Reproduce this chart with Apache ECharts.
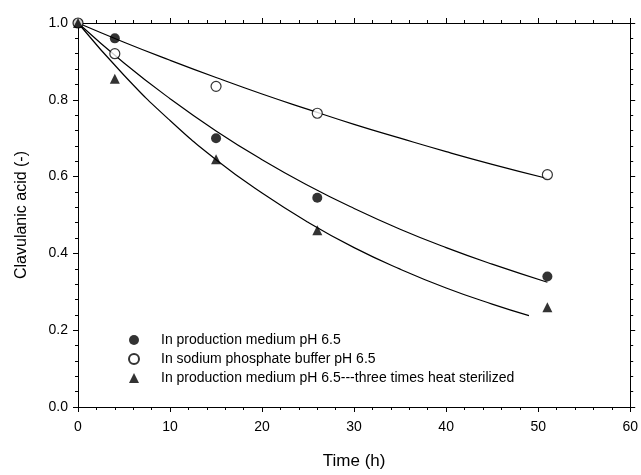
<!DOCTYPE html>
<html>
<head>
<meta charset="utf-8">
<script src="https://cdn.jsdelivr.net/npm/echarts@6/dist/echarts.min.js"></script>
<style>html,body{margin:0;padding:0;background:#fff}#c{width:641px;height:475px}</style>
</head>
<body>
<div id="c"></div>
<script>
// Measured points
const timePoints = [0, 4, 15, 26, 51];
const prodMedium = [1.0, 0.96, 0.70, 0.545, 0.34];
const phosphateBuffer = [1.0, 0.92, 0.835, 0.765, 0.605];
const heatSterilized = [1.0, 0.855, 0.645, 0.46, 0.26];

// Fitted curves
const curveTimeA = [0, 5, 10, 15, 20, 25, 30, 35, 40, 45, 51];
const curvePhosphate = [1.0, 0.95, 0.903, 0.858, 0.815, 0.775, 0.736, 0.70, 0.665, 0.632, 0.595];
const curveProd = [1.0, 0.896, 0.803, 0.719, 0.644, 0.577, 0.517, 0.463, 0.415, 0.372, 0.325];
const curveTimeB = [0, 5, 10, 15, 20, 25, 30, 35, 40, 45, 49];
const curveHeat = [1.0, 0.864, 0.746, 0.644, 0.557, 0.481, 0.415, 0.359, 0.310, 0.268, 0.238];

const legendNames = [
  'In production medium pH 6.5',
  'In sodium phosphate buffer pH 6.5',
  'In production medium pH 6.5---three times heat sterilized'
];
const xTicks = [0, 10, 20, 30, 40, 50, 60];
const yTicks = [0.0, 0.2, 0.4, 0.6, 0.8, 1.0];

const pair = (xs, ys) => xs.map((x, i) => [x, ys[i]]);
const font = 'Liberation Sans, Arial, sans-serif';
const axisCommon = {
  axisLine: {show: true, onZero: false, lineStyle: {color: '#000', width: 1}},
  axisTick: {show: true, inside: false, length: 5, lineStyle: {color: '#000'}},
  minorTick: {show: true, splitNumber: 5, length: 3, lineStyle: {color: '#000'}},
  splitLine: {show: false}
};

const chart = echarts.init(document.getElementById('c'));
chart.setOption({
  animation: false,
  backgroundColor: '#fff',
  textStyle: {fontFamily: font},
  grid: {left: 78, right: 8, top: 23, bottom: 63},
  legend: {
    orient: 'vertical', left: 123, top: 328, itemGap: 5,
    itemWidth: 10, itemHeight: 10,
    textStyle: {fontFamily: font, fontSize: 14, color: '#000', padding: [0, 0, 0, 17]},
    data: legendNames
  },
  xAxis: [
    Object.assign({}, axisCommon, {
      type: 'value', min: xTicks[0], max: xTicks[xTicks.length - 1], interval: 10,
      position: 'bottom',
      axisLabel: {color: '#000', fontSize: 14, margin: 13, fontFamily: font},
      name: 'Time (h)', nameLocation: 'middle', nameGap: 46,
      nameTextStyle: {color: '#000', fontSize: 17, fontFamily: font}
    }),
    Object.assign({}, axisCommon, {
      type: 'value', min: 0, max: 60, interval: 10, position: 'top',
      axisLabel: {show: false}
    })
  ],
  yAxis: [
    Object.assign({}, axisCommon, {
      type: 'value', min: yTicks[0], max: yTicks[yTicks.length - 1], interval: 0.2,
      position: 'left',
      axisLabel: {color: '#000', fontSize: 14, margin: 10, fontFamily: font,
        formatter: v => v.toFixed(1)},
      name: 'Clavulanic acid (-)', nameLocation: 'middle', nameGap: 48,
      nameTextStyle: {color: '#000', fontSize: 16, fontFamily: font}
    }),
    Object.assign({}, axisCommon, {
      type: 'value', min: 0, max: 1, interval: 0.2, position: 'right',
      axisLabel: {show: false}
    })
  ],
  series: [
    {type: 'line', name: 'fitP', data: pair(curveTimeA, curvePhosphate), smooth: true, showSymbol: false,
      lineStyle: {color: '#000', width: 1.2}, z: 2},
    {type: 'line', name: 'fitM', data: pair(curveTimeA, curveProd), smooth: true, showSymbol: false,
      lineStyle: {color: '#000', width: 1.2}, z: 2},
    {type: 'line', name: 'fitH', data: pair(curveTimeB, curveHeat), smooth: true, showSymbol: false,
      lineStyle: {color: '#000', width: 1.2}, z: 2},
    {type: 'scatter', name: legendNames[0], data: pair(timePoints, prodMedium), symbol: 'circle', symbolSize: 10,
      itemStyle: {color: '#000'}, z: 5},
    {type: 'scatter', name: legendNames[1], data: pair(timePoints, phosphateBuffer), symbol: 'circle', symbolSize: 10,
      itemStyle: {color: '#fff', borderColor: '#000', borderWidth: 1.2}, z: 5},
    {type: 'scatter', name: legendNames[2], data: pair(timePoints, heatSterilized), symbol: 'triangle', symbolSize: 10,
      itemStyle: {color: '#000'}, z: 5}
  ]
});
</script>
</body>
</html>
